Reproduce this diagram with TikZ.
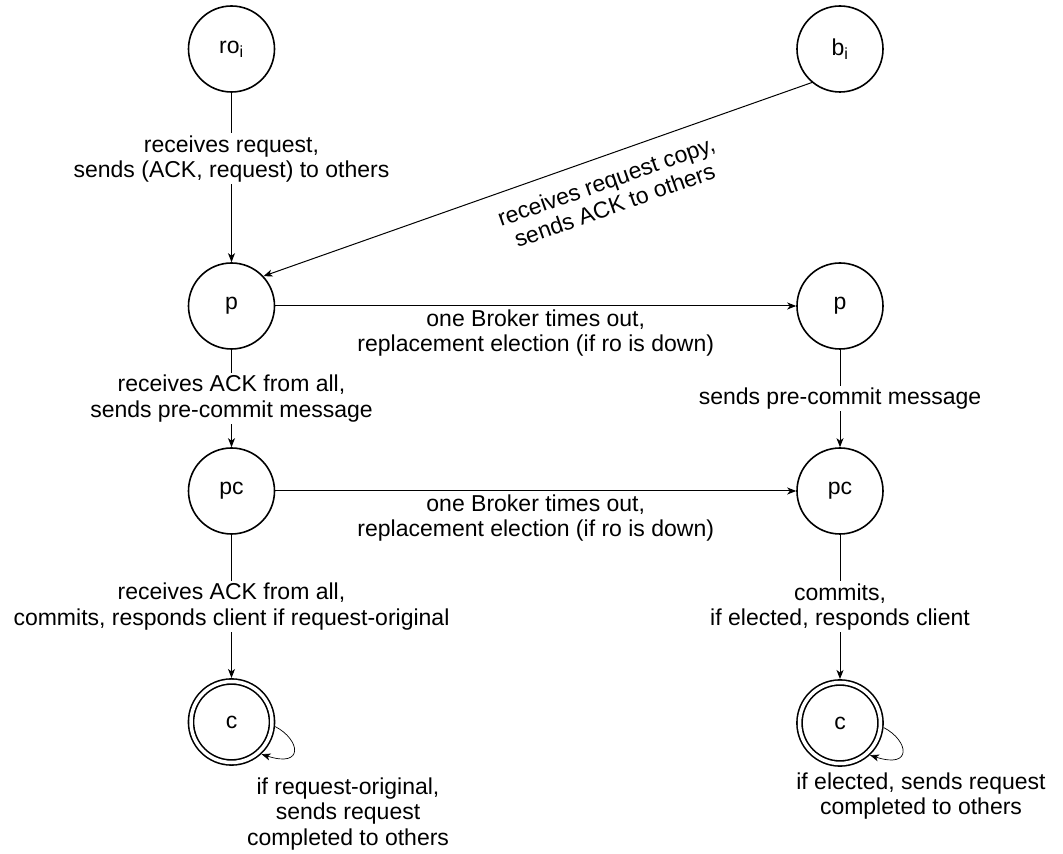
\documentclass[tikz,border=0pt]{standalone}
\usepackage{fontspec}
\setmainfont{Liberation Sans}
\usetikzlibrary{arrows.meta,positioning}

\begin{document}
\begin{tikzpicture}[x=10pt, y=10pt,
                    >={Stealth[length=9pt,width=7pt,inset=2.5pt]},
                    every node/.style={font=\fontsize{23}{25.5}\selectfont},
                    state/.style={circle, draw, line width=1.6pt,
                                  minimum size=86pt, inner sep=0pt},
                    final/.style={state, minimum size=81pt, double,
                                  double distance=3.5pt, outer sep=3.5pt},
                    edge/.style={->, line width=1pt},
                    lbl/.style={fill=white, align=center, inner sep=2pt}]
  \useasboundingbox (0,0) rectangle (106.3,85.4);
  % states
  \node[state] (ro)  at (23.15,80.5) {ro\textsubscript{i}};
  \node[state] (b)   at (84.0,80.5)  {b\textsubscript{i}};
  \node[state] (p)   at (23.15,54.8) {p};
  \node[state] (p2)  at (84.0,54.8)  {p};
  \node[state] (pc)  at (23.15,36.3) {pc};
  \node[state] (pc2) at (84.0,36.3)  {pc};
  \node[final] (c)   at (23.15,13.2) {c};
  \node[final] (c2)  at (84.0,13.1)  {c};
  % request reaches the brokers
  \draw[edge] (ro) -- node[lbl, pos=0.39]
       {receives request,\\ sends (ACK, request) to others} (p);
  \draw[edge] (b.230) -- node[pos=0.39, sloped, below=12pt, align=center]
       {receives request copy,\\ sends ACK to others} (p.43);
  % left column: normal run
  \draw[edge] (p) -- node[lbl]
       {receives ACK from all,\\ sends pre-commit message} (pc);
  \draw[edge] (pc) -- node[lbl]
       {receives ACK from all,\\ commits, responds client if request-original} (c);
  % timeouts
  \draw[edge] (p) -- node[below, align=center]
       {one Broker times out,\\ replacement election (if ro is down)} (p2);
  \draw[edge] (pc) -- node[below, align=center]
       {one Broker times out,\\ replacement election (if ro is down)} (pc2);
  % right column: after election
  \draw[edge] (p2) -- node[lbl] {sends pre-commit message} (pc2);
  \draw[edge] (pc2) -- node[lbl] {commits,\\ if elected, responds client} (c2);
  % completion loops
  \draw[->, line width=0.7pt] (c.-6) .. controls +(2.5,-1.3) and +(4.3,-1.4) .. (c.-47);
  \draw[->, line width=0.7pt] (c2.-6) .. controls +(2.5,-1.3) and +(4.3,-1.4) .. (c2.-47);
  \node[align=center] (cdone)  at (34.8,4.0)
       {if request-original,\\ sends request\\ completed to others};
  \node[align=center] (c2done) at (92.1,5.8)
       {if elected, sends request\\ completed to others};
\end{tikzpicture}
\end{document}
